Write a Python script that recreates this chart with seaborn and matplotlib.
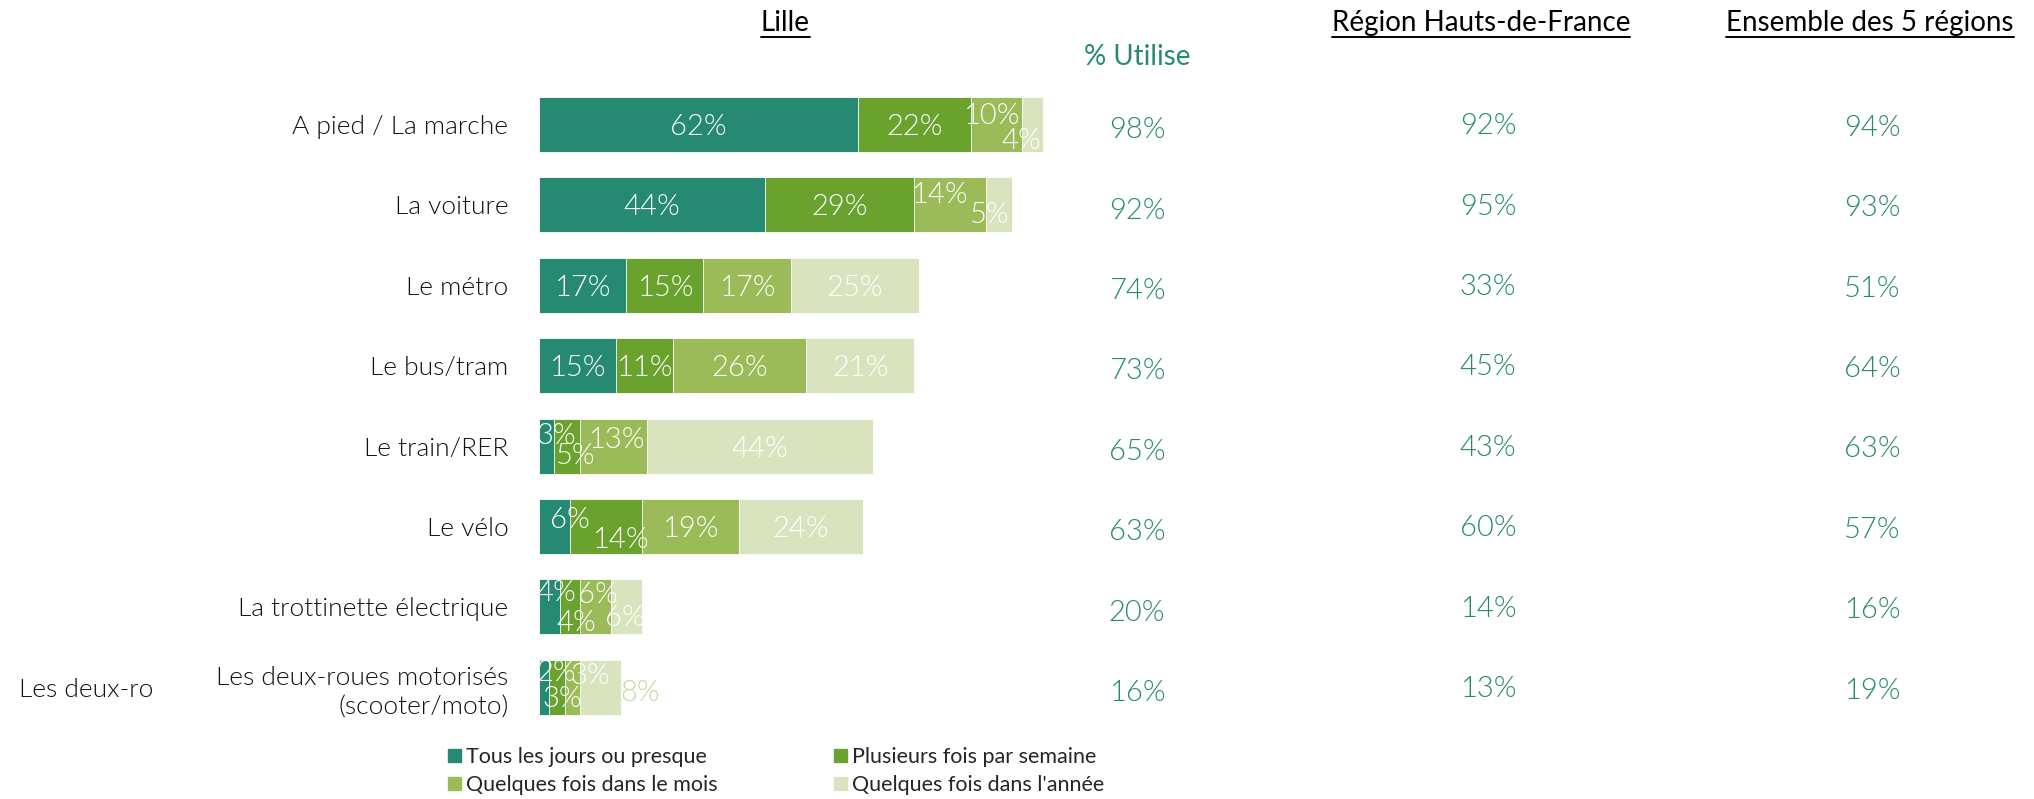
import numpy as np
import pandas as pd
import matplotlib
matplotlib.use("Agg")
import matplotlib.pyplot as plt
import seaborn as sns

# -------------------------
# Data
# -------------------------
modes = ["A pied / La marche", "La voiture", "Le métro", "Le bus/tram",
         "Le train/RER", "Le vélo", "La trottinette électrique",
         "Les deux-roues motorisés\n(scooter/moto)"]
series = ["Tous les jours ou presque", "Plusieurs fois par semaine",
          "Quelques fois dans le mois", "Quelques fois dans l'année"]
daily = [62, 44, 17, 15, 3, 6, 4, 2]
weekly = [22, 29, 15, 11, 5, 14, 4, 3]
monthly = [10, 14, 17, 26, 13, 19, 6, 3]
yearly = [4, 5, 25, 21, 44, 24, 6, 8]
lille_use = [98, 92, 74, 73, 65, 63, 20, 16]
region_use = [92, 95, 33, 45, 43, 60, 14, 13]
all_use = [94, 93, 51, 64, 63, 57, 16, 19]

colors = ["#268a73", "#6aa22e", "#9bbb59", "#d9e4bf"]
teal = "#268a73"
dark = "#111111"
LW = 300  # light text weight

sns.set_theme(style="white")
plt.rcParams["font.family"] = ["Lato", "DejaVu Sans"]

df = pd.DataFrame({"mode": modes, "s0": daily, "s1": weekly,
                   "s2": monthly, "s3": yearly})
vals = df[["s0", "s1", "s2", "s3"]].to_numpy()
cum = vals.cumsum(axis=1)

W, H = 2034, 799
fig = plt.figure(figsize=(W / 100, H / 100), dpi=100)

# axes: bars start at x=539px, 1% = 5.14px ; rows at 124.5px + 80.4px*i
x0 = 539
ppu = 5.14
row = 80.4
top = 124.5 - row / 2
ax = fig.add_axes([x0 / W, 1 - (top + 8 * row) / H,
                   (W - x0) / W, 8 * row / H])

# stacked bars: draw cumulative totals from back to front
for i in range(3, -1, -1):
    d = pd.DataFrame({"mode": modes, "v": cum[:, i]})
    sns.barplot(data=d, x="v", y="mode", orient="h", color=colors[i],
                saturation=1, width=0.685, edgecolor="white", linewidth=0.6,
                ax=ax)

ax.set_xlim(0, (W - x0) / ppu)
ax.set_ylim(7.5, -0.5)
ax.set_xlabel("")
ax.set_ylabel("")
ax.set_xticks([])
sns.despine(ax=ax, left=True, bottom=True)
ax.tick_params(axis="y", length=0, pad=22)
for t in ax.get_yticklabels():
    t.set_fontsize(19)
    t.set_fontweight(LW)
    t.set_color(dark)
    t.set_linespacing(1.3)

# label nudges (dx in %, dy in rows): small segments are staggered
nudge = {(0, 2): (-1.0, -0.14), (0, 3): (-2.1, 0.18),
         (1, 2): (-2.1, -0.15), (1, 3): (-1.8, 0.10),
         (4, 0): (1.9, -0.16), (4, 1): (1.6, 0.09), (4, 2): (0.6, -0.11),
         (5, 0): (3.1, -0.11), (5, 1): (2.9, 0.14),
         (6, 0): (1.3, -0.20), (6, 1): (1.2, 0.17), (6, 2): (0.5, -0.18),
         (6, 3): (-0.2, 0.11),
         (7, 0): (2.3, -0.21), (7, 1): (1.0, 0.12), (7, 2): (3.5, -0.17),
         (7, 3): (7.7, 0.04)}
for r in range(len(modes)):
    for i in range(4):
        v = vals[r, i]
        dx, dy = nudge.get((r, i), (0, 0))
        col = "#c4d8a2" if (r, i) == (7, 3) else "white"
        ax.text(cum[r, i] - v / 2 + dx, r + 0.03 + dy, f"{v}%",
                ha="center", va="center", fontsize=21, fontweight=LW,
                color=col)

# right-hand columns
def px(x):
    return (x - x0) / ppu

def yrow(y):
    return (y - 124.5) / row

for r in range(len(modes)):
    ax.text(px(1137), r + 0.07, f"{lille_use[r]}%", ha="center",
            va="center", fontsize=21, fontweight=LW, color=teal)
    ax.text(px(1488), r + 0.02, f"{region_use[r]}%", ha="center",
            va="center", fontsize=21, fontweight=LW, color=teal)
    ax.text(px(1872), r + 0.04, f"{all_use[r]}%", ha="center",
            va="center", fontsize=21, fontweight=LW, color=teal)

# headers (underlined)
heads = []
for xh, txt in [(785, "Lille"), (1481, "Région Hauts-de-France"),
                (1870, "Ensemble des 5 régions")]:
    heads.append(ax.text(px(xh), yrow(23), txt, ha="center", va="center",
                         fontsize=20, color="black", clip_on=False))
ax.text(px(1137), yrow(57), "% Utilise", ha="center", va="center",
        fontsize=20, color=teal, clip_on=False)

fig.canvas.draw()
inv = ax.transData.inverted()
for t in heads:
    bb = t.get_window_extent()
    xa = inv.transform((bb.x0, 0))[0]
    xb = inv.transform((bb.x1, 0))[0]
    ax.plot([xa, xb], [yrow(37), yrow(37)], color="black", lw=1.4,
            clip_on=False)

# stray label on the far left
fig.text(19 / W, 1 - 690 / H, "Les deux-ro", ha="left", va="center",
         fontsize=19, fontweight=LW, color=dark)

# legend (row-wise order)
order = [0, 2, 1, 3]
handles = [plt.Rectangle((0, 0), 1, 1, color=colors[k]) for k in order]
fig.legend(handles, [series[k] for k in order], loc="upper left",
           bbox_to_anchor=(448 / W, 1 - 747 / H), ncol=2, frameon=False,
           fontsize=15.5, handlelength=0.6, handleheight=0.6,
           handletextpad=0.25, columnspacing=5.4, labelspacing=0.38,
           borderaxespad=0, borderpad=0)

fig.savefig("out.png", dpi=100)
